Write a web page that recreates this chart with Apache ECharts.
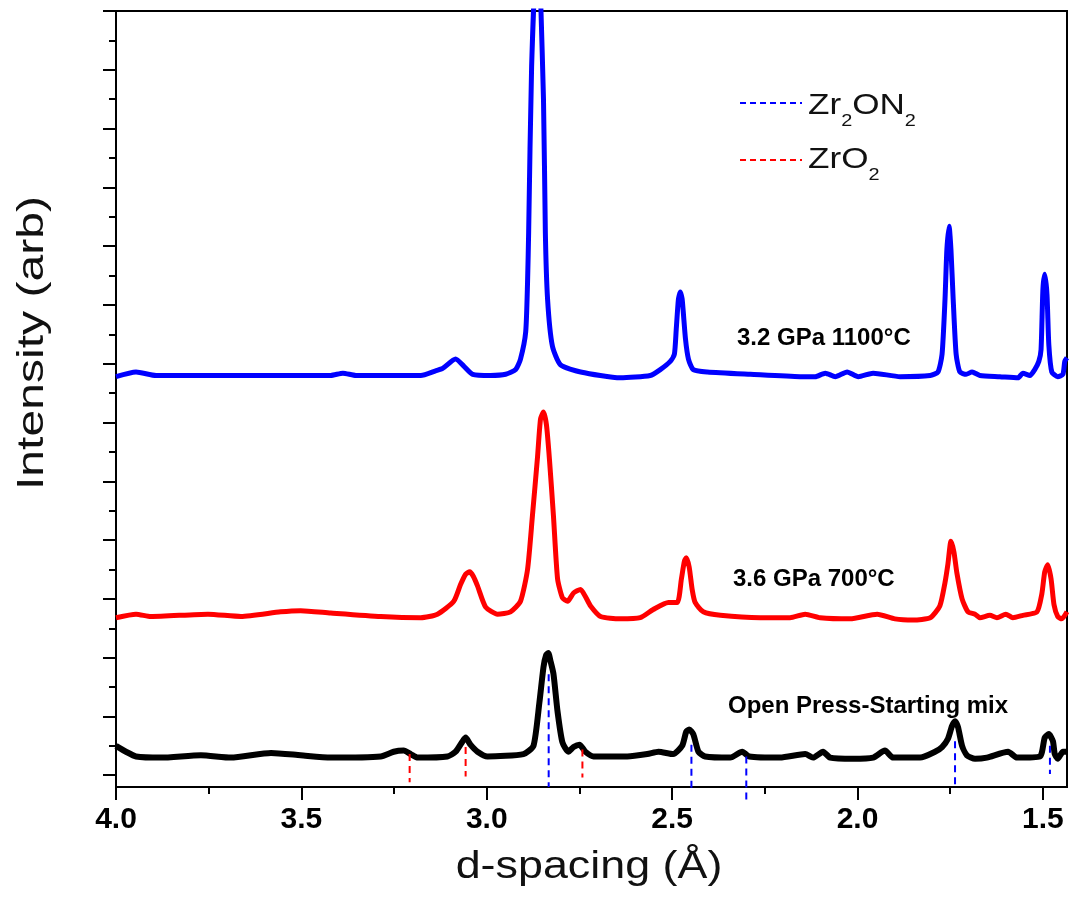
<!DOCTYPE html>
<html>
<head>
<meta charset="utf-8">
<script src="https://cdn.jsdelivr.net/npm/echarts@6/dist/echarts.min.js"></script>
<style>
html,body{margin:0;padding:0;background:#fff;}
#chart{width:1073px;height:911px;}
</style>
</head>
<body>
<div id="chart"></div>
<script>
// ---- Data (d-spacing in Å, intensity in arbitrary units) ----
const blueD = [4.000,3.946,3.892,3.636,3.421,3.388,3.353,3.178,3.138,3.119,3.084,3.062,3.038,2.990,2.949,2.922,2.909,2.895,2.890,2.887,2.879,2.863,2.847,2.842,2.836,2.823,2.801,2.747,2.640,2.559,2.532,2.505,2.494,2.489,2.483,2.478,2.473,2.464,2.456,2.443,2.405,2.289,2.155,2.114,2.087,2.060,2.028,1.998,1.958,1.885,1.804,1.783,1.772,1.764,1.759,1.753,1.748,1.742,1.734,1.724,1.707,1.691,1.670,1.616,1.567,1.554,1.535,1.522,1.511,1.505,1.500,1.495,1.489,1.484,1.476,1.460,1.446,1.441,1.435];
const blueI = [339,343,340,340,340,342,340,340,344,346,354,348,341,340,341,345,354,377,419,462,603,720,575,462,405,365,349,343,338,340,345,352,358,379,405,411,405,371,354,345,343,341,339,339,342,339,343,339,342,339,340,343,358,405,447,467,447,405,358,343,341,343,340,339,338,342,340,345,352,362,413,426,409,366,343,339,341,352,355];

const redD = [4.000,3.946,3.906,3.752,3.663,3.556,3.502,3.421,3.286,3.178,3.133,3.089,3.071,3.057,3.046,3.036,3.025,3.003,2.971,2.936,2.909,2.890,2.877,2.863,2.855,2.847,2.839,2.831,2.820,2.809,2.796,2.782,2.766,2.747,2.734,2.720,2.693,2.640,2.586,2.551,2.510,2.486,2.475,2.467,2.462,2.454,2.446,2.438,2.416,2.370,2.262,2.182,2.141,2.101,2.020,1.947,1.899,1.850,1.804,1.778,1.764,1.756,1.748,1.740,1.732,1.718,1.702,1.683,1.670,1.643,1.624,1.600,1.581,1.554,1.516,1.503,1.495,1.487,1.478,1.470,1.460,1.449,1.435];
const redI = [134,137,135,137,135,139,140,138,135,134,137,148,162,171,173,169,161,143,137,139,148,175,220,271,303,309,298,269,220,167,151,148,155,158,152,144,135,133,134,141,147,147,167,182,185,177,158,147,139,136,134,134,137,134,133,137,133,132,134,144,164,180,199,190,172,150,139,137,134,136,134,137,134,136,139,154,173,179,167,145,135,133,139];

const blackD = [4.000,3.973,3.946,3.879,3.771,3.690,3.582,3.502,3.421,3.286,3.251,3.224,3.205,3.186,3.106,3.084,3.065,3.057,3.044,3.025,2.998,2.901,2.874,2.858,2.847,2.840,2.834,2.828,2.820,2.809,2.796,2.780,2.766,2.750,2.734,2.712,2.621,2.567,2.537,2.497,2.473,2.462,2.454,2.443,2.429,2.411,2.343,2.311,2.292,2.209,2.141,2.120,2.093,2.074,2.012,1.958,1.926,1.904,1.831,1.791,1.772,1.756,1.745,1.737,1.729,1.718,1.705,1.683,1.651,1.594,1.570,1.508,1.495,1.484,1.473,1.468,1.460,1.446,1.435];
const blackI = [25,20,16,15,17,15,19,17,15,16,20,21,18,15,16,20,29,32,26,20,16,18,25,62,92,102,104,97,86,54,28,20,24,26,20,16,16,18,20,18,25,37,39,35,20,16,15,20,16,15,18,15,20,15,14,15,21,15,15,20,24,31,42,46,41,25,17,14,15,20,15,16,32,35,29,18,14,20,20];

// Reference reflection positions (dashed markers)
const zr2on2D = [2.833, 2.448, 2.300, 1.737, 1.481];
const zr2on2Top = [86, 26, 16, 29, 25];
const zr2on2Bottom = [-10, -12, -22, -12, 1];
const zro2D = [3.208, 3.057, 2.742];
const zro2Top = [18, 24, 22];
const zro2Bottom = [-6, -1, -2];

// Axes ticks / labels
const xMajorTicks = [4.0, 3.5, 3.0, 2.5, 2.0, 1.5];
const xTickLabels = ['4.0', '3.5', '3.0', '2.5', '2.0', '1.5'];
const xMinorTicks = [3.75, 3.25, 2.75, 2.25, 1.75];
const yMajorTicks = [0,50,100,150,200,250,300,350,400,450,500,550,600,650];
const yMinorTicks = [25,75,125,175,225,275,325,375,425,475,525,575,625];

const sampleNames = ['3.2 GPa 1100°C', '3.6 GPa 700°C', 'Open Press-Starting mix'];
const phaseNames = ['Zr2ON2', 'ZrO2'];
const phaseLabels = ['{n|Zr}{s|2}{n|ON}{s|2}', '{n|ZrO}{s|2}'];

const FONT = '"Liberation Sans", Arial, Helvetica, sans-serif';

function zip(a, b) { return a.map((v, i) => [v, b[i]]); }

const chart = echarts.init(document.getElementById('chart'), null, {renderer: 'canvas'});

const series = [
  {name: sampleNames[1], type: 'line', data: zip(redD, redI), showSymbol: false, symbol: 'none', smooth: 0.2,
   lineStyle: {color: '#ff0000', width: 5}, itemStyle: {color: '#ff0000'}, z: 3},
  {name: sampleNames[0], type: 'line', data: zip(blueD, blueI), showSymbol: false, symbol: 'none', smooth: 0.2,
   lineStyle: {color: '#0000ff', width: 5}, itemStyle: {color: '#0000ff'}, z: 3},
  {name: sampleNames[2], type: 'line', data: zip(blackD, blackI), showSymbol: false, symbol: 'none', smooth: 0.2,
   lineStyle: {color: '#000000', width: 6}, itemStyle: {color: '#000000'}, z: 3}
];
zr2on2D.forEach((d, i) => {
  series.push({name: phaseNames[0], type: 'line', data: [[d, zr2on2Top[i]], [d, zr2on2Bottom[i]]],
    showSymbol: false, symbol: 'none', clip: false, z: 5,
    lineStyle: {color: '#0000ff', width: 2, type: [7, 5]}, itemStyle: {color: '#0000ff'}});
});
zro2D.forEach((d, i) => {
  series.push({name: phaseNames[1], type: 'line', data: [[d, zro2Top[i]], [d, zro2Bottom[i]]],
    showSymbol: false, symbol: 'none', clip: false, z: 5,
    lineStyle: {color: '#ff0000', width: 2, type: [7, 5]}, itemStyle: {color: '#ff0000'}});
});

const axisLineStyle = {color: '#000', width: 2};
const legendRich = {
  n: {fontSize: 30, lineHeight: 48, fontFamily: FONT, fill: '#111', color: '#111'},
  s: {fontSize: 17, lineHeight: 17, verticalAlign: 'bottom', fontFamily: FONT, fill: '#111', color: '#111'}
};

function txt(x, y, text, size, weight, extra) {
  return Object.assign({type: 'text', x: x, y: y, z: 10,
    style: {text: text, fontSize: size, fontWeight: weight, fontFamily: FONT, fill: '#000',
      align: 'left', verticalAlign: 'middle', textAlign: 'left', textVerticalAlign: 'middle'}}, extra || {});
}

const option = {
  animation: false,
  backgroundColor: '#fff',
  grid: {left: 116, right: 6, top: 11, bottom: 124, show: true, borderColor: '#000', borderWidth: 2},
  xAxis: [
    {type: 'value', min: 1.435, max: 4.0, inverse: true, position: 'bottom',
     axisLine: {show: true, onZero: false, lineStyle: axisLineStyle},
     axisTick: {show: true, customValues: xMajorTicks, length: 13, inside: false, lineStyle: axisLineStyle},
     axisLabel: {show: true, customValues: xMajorTicks,
       formatter: function (v) { const i = xMajorTicks.findIndex(t => Math.abs(t - v) < 1e-6); return i >= 0 ? xTickLabels[i] : ''; },
       fontSize: 30, fontWeight: 'bold', fontFamily: FONT, color: '#000', margin: 18},
     splitLine: {show: false}},
    {type: 'value', min: 1.435, max: 4.0, inverse: true, position: 'bottom',
     axisLine: {show: false, onZero: false},
     axisTick: {show: true, customValues: xMinorTicks, length: 7, inside: false, lineStyle: axisLineStyle},
     axisLabel: {show: false}, splitLine: {show: false}}
  ],
  yAxis: [
    {type: 'value', min: -10, max: 650, position: 'left',
     axisLine: {show: true, onZero: false, lineStyle: axisLineStyle},
     axisTick: {show: true, customValues: yMajorTicks, length: 13, inside: false, lineStyle: axisLineStyle},
     axisLabel: {show: false}, splitLine: {show: false}},
    {type: 'value', min: -10, max: 650, position: 'left',
     axisLine: {show: false, onZero: false},
     axisTick: {show: true, customValues: yMinorTicks, length: 7, inside: false, lineStyle: axisLineStyle},
     axisLabel: {show: false}, splitLine: {show: false}}
  ],
  graphic: {elements: [
    // axis titles
    {type: 'text', x: 33, y: 343, rotation: Math.PI / 2, scaleX: 1.3, z: 10,
     style: {text: 'Intensity (arb)', fontSize: 37, fontFamily: FONT, fill: '#111',
       align: 'center', verticalAlign: 'middle', textAlign: 'center', textVerticalAlign: 'middle'}},
    {type: 'text', x: 589, y: 868, scaleX: 1.18, z: 10,
     style: {text: 'd-spacing (Å)', fontSize: 38, fontFamily: FONT, fill: '#111',
       align: 'center', verticalAlign: 'middle', textAlign: 'center', textVerticalAlign: 'middle'}},
    // sample annotations
    txt(737, 338, sampleNames[0], 24, 'bold'),
    txt(733, 579, sampleNames[1], 24, 'bold'),
    txt(728, 706, sampleNames[2], 24, 'bold'),
    // legend for reference markers
    {type: 'line', z: 10, shape: {x1: 740, y1: 103, x2: 802, y2: 103},
     style: {stroke: '#0000ff', lineWidth: 2, lineDash: [6, 4]}},
    {type: 'line', z: 10, shape: {x1: 740, y1: 160, x2: 802, y2: 160},
     style: {stroke: '#ff0000', lineWidth: 2, lineDash: [6, 4]}},
    {type: 'text', x: 808, y: 106, scaleX: 1.17, z: 10,
     style: {text: phaseLabels[0], rich: legendRich, fontSize: 30, fontFamily: FONT, fill: '#111',
       align: 'left', verticalAlign: 'middle', textAlign: 'left', textVerticalAlign: 'middle'}},
    {type: 'text', x: 808, y: 160, scaleX: 1.17, z: 10,
     style: {text: phaseLabels[1], rich: legendRich, fontSize: 30, fontFamily: FONT, fill: '#111',
       align: 'left', verticalAlign: 'middle', textAlign: 'left', textVerticalAlign: 'middle'}}
  ]},
  series: series
};
chart.setOption(option);
</script>
</body>
</html>
